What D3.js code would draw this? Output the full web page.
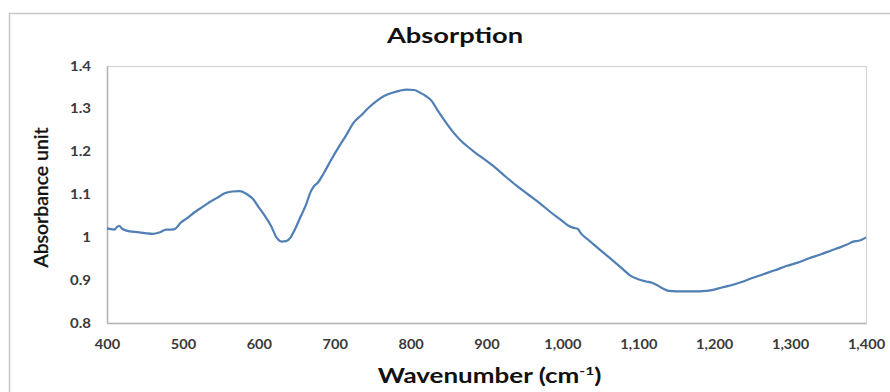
<!DOCTYPE html>
<html>
<head>
<meta charset="utf-8">
<script src="https://cdn.jsdelivr.net/npm/d3@7"></script>
<style>
  html, body { margin: 0; padding: 0; background: #fff; }
  svg { display: block; }
</style>
</head>
<body>
<svg id="chart" width="890" height="392"></svg>
<script>
// Absorption spectrum: wavenumber (cm^-1) vs absorbance
const wavenumber = [400, 405, 410, 413, 416, 420, 430, 440, 450, 460, 470, 478, 485, 490, 497, 505, 515, 525, 535, 545, 555, 565, 575, 585, 592, 600, 608, 616, 624, 630, 636, 642, 648, 655, 662, 668, 672, 678, 685, 695, 705, 715, 725, 735, 745, 755, 765, 775, 785, 795, 805, 812, 820, 828, 835, 845, 855, 865, 875, 885, 895, 910, 925, 940, 955, 970, 985, 1000, 1008, 1015, 1020, 1025, 1035, 1050, 1065, 1080, 1090, 1100, 1110, 1118, 1125, 1133, 1140, 1150, 1160, 1170, 1180, 1190, 1200, 1210, 1220, 1235, 1250, 1265, 1280, 1295, 1310, 1325, 1340, 1355, 1365, 1375, 1383, 1390, 1395, 1400];
const absorbance = [1.021, 1.019, 1.018, 1.024, 1.027, 1.020, 1.014, 1.012, 1.010, 1.008, 1.012, 1.018, 1.018, 1.020, 1.034, 1.044, 1.058, 1.070, 1.082, 1.092, 1.103, 1.107, 1.108, 1.100, 1.090, 1.070, 1.050, 1.027, 0.998, 0.990, 0.991, 1.000, 1.020, 1.048, 1.075, 1.105, 1.118, 1.128, 1.148, 1.180, 1.210, 1.238, 1.268, 1.285, 1.303, 1.318, 1.330, 1.337, 1.342, 1.345, 1.344, 1.338, 1.330, 1.318, 1.298, 1.272, 1.248, 1.228, 1.212, 1.198, 1.185, 1.165, 1.142, 1.120, 1.100, 1.080, 1.058, 1.038, 1.027, 1.022, 1.020, 1.008, 0.993, 0.970, 0.948, 0.925, 0.910, 0.902, 0.897, 0.894, 0.888, 0.880, 0.875, 0.874, 0.874, 0.874, 0.874, 0.875, 0.878, 0.883, 0.887, 0.895, 0.905, 0.914, 0.923, 0.933, 0.941, 0.951, 0.960, 0.970, 0.976, 0.983, 0.990, 0.992, 0.995, 1.000];

const xTicks = [400, 500, 600, 700, 800, 900, 1000, 1100, 1200, 1300, 1400];
const yTicks = [0.8, 0.9, 1.0, 1.1, 1.2, 1.3, 1.4];

const titleText = "Absorption";
const xTitle = "Wavenumber (cm";
const xTitleSup = "-1";
const yTitle = "Absorbance unit";

const svg = d3.select("#chart");
const font = "Lato, 'Open Sans', sans-serif";
const widen = 1.3; // horizontal stretch applied to the horizontal titles

const plot = { left: 107, top: 66, right: 866, bottom: 323 };

const x = d3.scaleLinear().domain([400, 1400]).range([plot.left, plot.right]);
const y = d3.scaleLinear().domain([0.8, 1.4]).range([plot.bottom, plot.top]);

// widen a text element's glyphs by factor k, keeping its anchor
function stretch(sel, k) {
  sel.each(function () {
    const w = this.getComputedTextLength();
    d3.select(this)
      .attr("textLength", w * k)
      .attr("lengthAdjust", "spacingAndGlyphs");
  });
}

// outer chart frame
svg.append("rect")
  .attr("x", 9.5).attr("y", 13.5)
  .attr("width", 900).attr("height", 400)
  .attr("fill", "#fff")
  .attr("stroke", "#c8c8c8")
  .attr("stroke-width", 1.5);

// plot area border
svg.append("rect")
  .attr("x", plot.left + 0.5).attr("y", plot.top + 0.5)
  .attr("width", plot.right - plot.left).attr("height", plot.bottom - plot.top)
  .attr("fill", "none")
  .attr("stroke", "#d4d4d4")
  .attr("stroke-width", 1.2);

// x axis
const xAxis = d3.axisBottom(x)
  .tickValues(xTicks)
  .tickSize(0)
  .tickPadding(17)
  .tickFormat(d3.format(","));
const gx = svg.append("g")
  .attr("transform", `translate(0,${plot.bottom})`)
  .call(xAxis);
gx.select(".domain").attr("stroke", "#b4b4b4").attr("stroke-width", 1.5);
gx.selectAll("text")
  .attr("font-family", font)
  .attr("font-weight", "bold")
  .attr("font-size", 13)
  .attr("fill", "#3a3a3a")
  .call(stretch, 1.12);

// y axis
const yAxis = d3.axisLeft(y)
  .tickValues(yTicks)
  .tickSize(0)
  .tickPadding(16)
  .tickFormat(d => d3.format("")(+d.toFixed(1)));
const gy = svg.append("g")
  .attr("transform", `translate(${plot.left},0)`)
  .call(yAxis);
gy.select(".domain").attr("stroke", "#b4b4b4").attr("stroke-width", 1.5);
gy.selectAll("text")
  .attr("font-family", font)
  .attr("font-weight", "bold")
  .attr("font-size", 12.5)
  .attr("fill", "#3a3a3a")
  .call(stretch, 1.2);

// spectrum line
const line = d3.line()
  .x((d, i) => x(wavenumber[i]))
  .y(d => y(d))
  .curve(d3.curveMonotoneX);

svg.append("path")
  .datum(absorbance)
  .attr("d", line)
  .attr("fill", "none")
  .attr("stroke", "#4f7fb5")
  .attr("stroke-width", 2.2)
  .attr("stroke-linejoin", "round");

// chart title
svg.append("text")
  .attr("transform", `translate(455,43) scale(${widen},1)`)
  .attr("text-anchor", "middle")
  .attr("font-family", font)
  .attr("font-weight", "bold")
  .attr("font-size", 21)
  .attr("fill", "#111")
  .text(titleText);

// x axis title with superscript
const xt = svg.append("text")
  .attr("transform", `translate(${(plot.left + plot.right) / 2 + 3},383) scale(${widen},1)`)
  .attr("text-anchor", "middle")
  .attr("font-family", font)
  .attr("font-weight", "bold")
  .attr("font-size", 20)
  .attr("fill", "#111");
xt.append("tspan").text(xTitle);
xt.append("tspan").attr("dy", -8).attr("font-size", 12).text(xTitleSup);
xt.append("tspan").attr("dy", 8).text(")");

// y axis title
svg.append("text")
  .attr("transform", `translate(48,${(plot.top + plot.bottom) / 2 + 3}) rotate(-90)`)
  .attr("text-anchor", "middle")
  .attr("font-family", font)
  .attr("font-size", 18.5)
  .attr("font-weight", 500)
  .attr("fill", "#111")
  .attr("stroke", "#111")
  .attr("stroke-width", 0.3)
  .text(yTitle)
  .call(stretch, 1.05);
</script>
</body>
</html>
